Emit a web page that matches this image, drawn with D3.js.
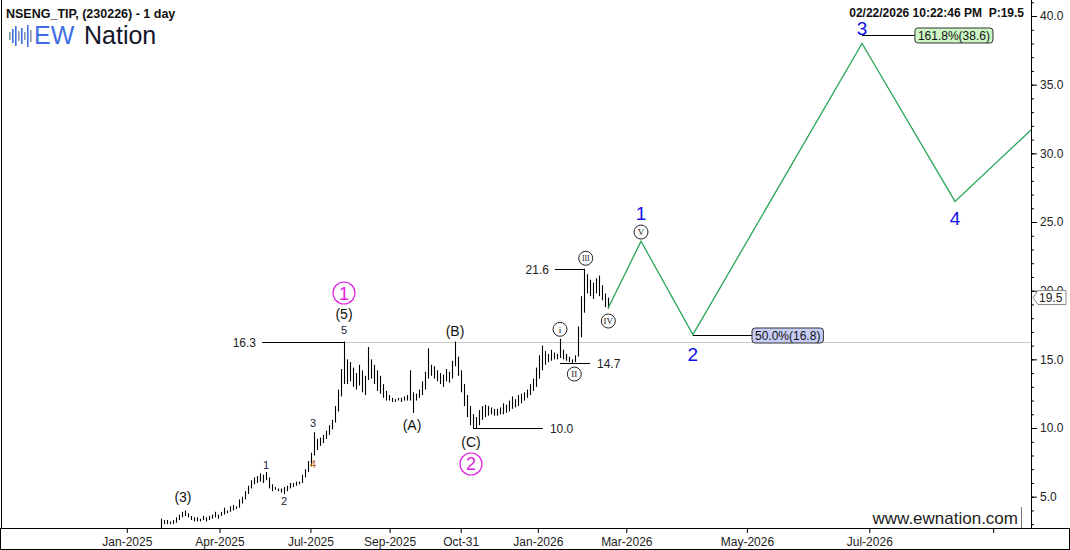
<!DOCTYPE html>
<html lang="en">
<head>
<meta charset="utf-8">
<script src="https://d3js.org/d3.v7.min.js"></script>
<style>
  *{margin:0;padding:0}
  body{background:#fff;width:1070px;height:550px;overflow:hidden}
  svg{display:block;font-family:Arial,'Liberation Sans',sans-serif}
</style>
</head>
<body>
<script>
// daily bars, one slot each (slot 0 = first bar)
const highs = [3.4,3.3,3.3,3.2,3.3,3.5,3.7,3.9,4.0,3.8, 3.6,3.5,3.5,3.4,3.6,3.5,3.6,3.7,3.9,3.7,
  3.9,4.2,4.0,4.3,4.4,4.3,4.8,5.0,5.4,5.8, 6.2,6.4,6.5,6.7,6.6,6.8,6.4,5.9,5.7,5.6,
  5.6,5.7,5.8,6.0,6.0,6.1,6.1,6.6,7.0,7.6, 8.2,9.7,9.2,9.3,9.5,9.8,10.2,10.6,11.6,12.8,
  14.3,16.3,15.0,14.8,14.4,14.0,14.6,14.2,13.8,15.9, 15.0,14.6,14.2,13.8,13.2,12.7,12.4,12.2,12.1,12.2,
  12.2,12.3,12.4,14.2,12.6,12.5,12.8,13.4,14.1,15.8, 14.6,14.5,14.2,14.0,13.9,14.3,14.1,14.9,16.3,15.2,
  14.2,13.2,12.4,11.6,11.0,10.8,11.3,11.6,11.7,11.6, 11.5,11.4,11.4,11.5,11.8,11.7,12.0,12.3,12.1,12.4,
  12.5,12.6,12.8,13.2,13.6,14.4,15.3,16.0,15.6,15.4, 15.7,15.5,15.4,16.5,15.7,15.4,15.2,15.0,15.3,17.4,
  19.6,21.6,21.2,20.8,20.6,20.9,21.1,20.4,19.8,19.5];
const lows = [2.7,3.0,3.0,3.0,3.0,3.1,3.3,3.5,3.6,3.5, 3.3,3.2,3.2,3.2,3.3,3.2,3.3,3.4,3.5,3.4,
  3.6,3.7,3.8,3.9,4.0,4.1,4.2,4.5,4.8,5.2, 5.6,5.9,6.0,6.1,6.0,6.2,5.6,5.4,5.5,5.4,
  5.3,5.2,5.4,5.6,5.7,5.8,5.9,6.0,6.4,6.8, 7.2,8.0,8.4,8.7,8.9,9.2,9.5,9.9,10.4,11.2,
  12.3,13.2,13.2,13.4,13.0,12.8,13.1,12.6,12.4,13.5, 13.6,13.2,12.7,12.5,12.2,12.0,12.0,11.9,11.9,12.0,
  11.9,12.0,12.0,12.0,11.1,12.0,12.2,12.4,12.8,13.6, 13.8,13.6,13.4,13.2,13.0,13.4,13.3,13.6,14.5,13.8,
  12.6,11.6,10.8,10.2,10.0,10.0,10.2,10.6,10.8,10.9, 11.0,10.9,10.9,11.0,11.0,11.1,11.2,11.4,11.5,11.6,
  11.8,12.0,12.2,12.4,12.7,13.0,13.6,14.2,14.6,14.8, 14.9,15.0,15.0,15.1,15.0,14.9,14.8,14.7,14.8,15.2,
  16.6,18.4,19.8,19.6,19.4,19.8,19.6,19.3,18.8,18.7];

// time axis
const tickLabels = ['Jan-2025','Apr-2025','Jul-2025','Sep-2025','Oct-31','Jan-2026','Mar-2026','May-2026','Jul-2026',''];
const tickSlots = [-11.4,19.5,49.8,76.2,99.9,125.6,155.1,195.3,236.1,277.4];
const priceTicks = [5,10,15,20,25,30,35,40];

// projected path (waves 1..4)
const projSlots = [149,160,177.3,233.67,264.67,290];
const projValues = [18.7,23.6,16.8,38.0,26.5,31.7];
const projLabels = ['1','2','3','4'];
const projLabelSlots = [160,177.3,233.67,264.67];
const projLabelValues = [25.66,15.39,39.13,25.29];

// horizontal level lines
const levelValues = [16.3,10.0,21.6,14.7];
const levelText = ['16.3','10.0','21.6','14.7'];
const levelFrom = [33.67,104,131.3,133];
const levelTo = [61.33,127.3,141.3,143];
const levelSide = ['left','right','left','right'];

// fibonacci targets
const fibText = ['161.8%(38.6)','50.0%(16.8)'];
const fibValues = [38.6,16.8];
const fibFrom = [233.67,177.3];
const fibBoxSlot = [251.3,197];
const fibFill = ['#ccf7c4','#c8cdf5'];

// wave labels
const waveText = ['(3)','1','2','3','4','5','(5)','(A)','(B)','(C)'];
const waveSlots = [7.33,35,41,50.67,50.67,61,61,83.67,98,103.33];
const waveValues = [4.98,7.31,4.69,10.37,7.38,17.14,18.3,10.22,17.06,8.98];
const waveSize = [14,11,11,11,11,11,14,14,14,14];
const waveColor = ['#111','#1a1a40','#1a1a40','#1a1a40','#c06a1a','#1a1a40','#111','#111','#111','#111'];

const bigText = ['1','2'];
const bigSlots = [61,103.33];
const bigValues = [19.83,7.38];

const romanText = ['i','II','III','IV','V'];
const romanSlots = [133,137.77,141.57,149.1,160];
const romanValues = [17.19,13.93,22.36,17.79,24.27];

const W = 1070, H = 550, right = 1031, bottom = 528;
const x = d3.scaleLinear().domain([0,290]).range([161,1031]);
const y = d3.scaleLinear().domain([5,40]).range([496.7,16]);

const svg = d3.select('body').append('svg').attr('width',W).attr('height',H);

// gray resistance line from wave (5)
svg.append('line')
  .attr('x1',x(61.33)).attr('x2',right)
  .attr('y1',Math.round(y(16.3))+0.5).attr('y2',Math.round(y(16.3))+0.5)
  .attr('stroke','#c8c8c8');

// bars
svg.append('g').selectAll('line').data(highs).join('line')
  .attr('x1',(d,i)=>Math.round(x(i))+0.5).attr('x2',(d,i)=>Math.round(x(i))+0.5)
  .attr('y1',d=>y(d)).attr('y2',(d,i)=>y(lows[i]))
  .attr('stroke','#000').attr('stroke-width',1.1);

// level lines
const lv = svg.append('g');
levelValues.forEach((v,i)=>{
  const yy = Math.round(y(v))+0.5;
  lv.append('line').attr('x1',x(levelFrom[i])).attr('x2',x(levelTo[i]))
    .attr('y1',yy).attr('y2',yy).attr('stroke','#000');
  const left = levelSide[i]==='left';
  lv.append('text').attr('x',left?x(levelFrom[i])-6:x(levelTo[i])+7).attr('y',yy)
    .attr('dy','0.35em').attr('text-anchor',left?'end':'start')
    .attr('font-size',12).attr('fill','#222').text(levelText[i]);
});

// projection
const pts = projSlots.map((s,i)=>[s,projValues[i]]);
svg.append('path').datum(pts)
  .attr('d',d3.line().x(d=>x(d[0])).y(d=>y(d[1])))
  .attr('fill','none').attr('stroke','#2aa65a').attr('stroke-width',1.3);

// fib boxes
fibText.forEach((t,i)=>{
  const yy = Math.round(y(fibValues[i]))+0.5;
  svg.append('line').attr('x1',x(fibFrom[i])).attr('x2',x(fibBoxSlot[i]))
    .attr('y1',yy).attr('y2',yy).attr('stroke','#000');
  const g = svg.append('g');
  const rect = g.append('rect');
  const tx = g.append('text').attr('x',x(fibBoxSlot[i])+3).attr('y',yy)
    .attr('dy','0.36em').attr('font-size',12).attr('fill','#111').text(t);
  const w = tx.node().getComputedTextLength();
  rect.attr('x',x(fibBoxSlot[i])).attr('y',yy-7.5).attr('width',w+6).attr('height',15)
    .attr('rx',3).attr('fill',fibFill[i]).attr('stroke','#333');
});

// wave labels
svg.append('g').selectAll('text').data(waveText).join('text')
  .attr('x',(d,i)=>x(waveSlots[i])).attr('y',(d,i)=>y(waveValues[i]))
  .attr('dy','0.36em').attr('text-anchor','middle')
  .attr('font-size',(d,i)=>waveSize[i]).attr('fill',(d,i)=>waveColor[i]).text(d=>d);

svg.append('g').selectAll('text').data(projLabels).join('text')
  .attr('x',(d,i)=>x(projLabelSlots[i])).attr('y',(d,i)=>y(projLabelValues[i]))
  .attr('dy','0.36em').attr('text-anchor','middle')
  .attr('font-size',19).attr('fill','#1010e8').text(d=>d);

// primary degree circles
bigText.forEach((t,i)=>{
  const cx = x(bigSlots[i]), cy = y(bigValues[i]);
  svg.append('circle').attr('cx',cx).attr('cy',cy).attr('r',11)
    .attr('fill','#fff').attr('stroke','#e020e0').attr('stroke-width',1.2);
  svg.append('text').attr('x',cx).attr('y',cy).attr('dy','0.36em')
    .attr('text-anchor','middle').attr('font-size',18).attr('fill','#e020e0').text(t);
});

// minute degree circles
romanText.forEach((t,i)=>{
  const cx = x(romanSlots[i]), cy = y(romanValues[i]);
  svg.append('circle').attr('cx',cx).attr('cy',cy).attr('r',7)
    .attr('fill','#fff').attr('stroke','#222').attr('stroke-width',1);
  svg.append('text').attr('x',cx).attr('y',cy).attr('dy','0.36em')
    .attr('text-anchor','middle').attr('font-size',t.length>2?7.5:9)
    .attr('font-family',"'Liberation Serif','DejaVu Serif',serif")
    .attr('fill','#111').text(t);
});

// right axis
const ya = svg.append('g').attr('transform',`translate(${right},0)`);
ya.call(d3.axisRight(y).tickValues(d3.range(3,42,1)).tickSize(3).tickFormat(''));
ya.call(g=>g.select('.domain').remove());
const yb = svg.append('g').attr('transform',`translate(${right},0)`);
yb.call(d3.axisRight(y).tickValues(priceTicks).tickSize(6).tickPadding(3).tickFormat(d3.format('.1f')));
yb.call(g=>g.select('.domain').remove());
svg.selectAll('.tick text').attr('font-size',12).attr('fill','#222').attr('font-family',null);
svg.append('line').attr('x1',right+0.5).attr('x2',right+0.5).attr('y1',0).attr('y2',bottom).attr('stroke','#000');

// last price marker
const py = y(19.5);
svg.append('path')
  .attr('d',`M${right+2},${py} L${right+7},${py-7} L${right+35},${py-7} L${right+35},${py+7} L${right+7},${py+7} Z`)
  .attr('fill','#fff').attr('stroke','#888');
svg.append('text').attr('x',right+8).attr('y',py).attr('dy','0.36em')
  .attr('font-size',12).attr('fill','#222').text('19.5');

// frame
svg.append('line').attr('x1',1.5).attr('x2',1.5).attr('y1',0).attr('y2',bottom).attr('stroke','#000');
svg.append('rect').attr('x',0.5).attr('y',bottom+0.5).attr('width',W-1).attr('height',21)
  .attr('fill','#fff').attr('stroke','#000');

// bottom axis
const xa = svg.append('g').attr('transform',`translate(0,${bottom})`);
xa.call(d3.axisBottom(x).tickValues(tickSlots).tickSize(5).tickPadding(4).tickFormat((d,i)=>tickLabels[i]));
xa.call(g=>g.select('.domain').remove());
xa.selectAll('text').attr('font-size',12).attr('fill','#222');

// watermark
svg.append('rect').attr('x',846).attr('y',506).attr('width',175).attr('height',22).attr('fill','#fff');
svg.append('line').attr('x1',1021.5).attr('x2',1021.5).attr('y1',507).attr('y2',bottom).attr('stroke','#777');
svg.append('text').attr('x',1018).attr('y',524).attr('text-anchor','end')
  .attr('font-size',17).attr('fill','#222').text('www.ewnation.com');

// header
svg.append('text').attr('x',6).attr('y',18).attr('font-size',12.5).attr('font-weight','bold')
  .attr('fill','#111').text('NSENG_TIP, (230226) - 1 day');
svg.append('text').attr('x',1024).attr('y',17).attr('text-anchor','end').attr('font-size',12)
  .attr('font-weight','bold').attr('fill','#111').text('02/22/2026 10:22:46 PM  P:19.5')
  .style('white-space','pre');

// logo
const logoH = [8,14,20,10,16,8,22,12];
const logoC = ['#8a94a8','#3f6fe0','#3f6fe0','#8a94a8','#3f6fe0','#8a94a8','#3f6fe0','#8a94a8'];
svg.append('g').selectAll('rect').data(logoH).join('rect')
  .attr('x',(d,i)=>9+i*3).attr('y',d=>36-d/2).attr('width',1.6).attr('height',d=>d)
  .attr('fill',(d,i)=>logoC[i]);
svg.append('text').attr('x',34).attr('y',44).attr('font-size',25).attr('font-weight',500)
  .attr('fill','#3f6fe0').text('EW');
svg.append('text').attr('x',84).attr('y',44).attr('font-size',25).attr('font-weight',500)
  .attr('fill','#15152a').text('Nation');
</script>
</body>
</html>
